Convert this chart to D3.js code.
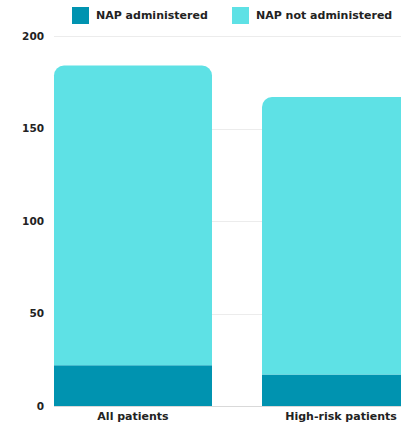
<!DOCTYPE html>
<html>
<head>
<meta charset="utf-8">
<script src="https://cdn.jsdelivr.net/npm/d3@7"></script>
<style>
  html, body { margin: 0; padding: 0; background: #fff; overflow: hidden; }
  text { font-family: "DejaVu Sans", "Liberation Sans", Arial, sans-serif; font-weight: bold; fill: #222; }
</style>
</head>
<body>
<svg id="chart"></svg>
<script>
// Patient groups and NAP counts
const categories = ["All patients", "High-risk patients"];
const seriesNames = ["NAP administered", "NAP not administered"];
const napAdministered = [22, 17];
const napNotAdministered = [162, 150];
const yTicks = [0, 50, 100, 150, 200];
const colors = ["#0093b0", "#5ee1e5"];

const width = 430, height = 429;
const margin = { top: 36, right: 0, bottom: 23, left: 54 };

const svg = d3.select("#chart").attr("width", width).attr("height", height);

// Bars are 158px wide with a 50px gap; the second bar runs past the right edge
const x = d3.scaleBand()
  .domain(categories)
  .range([margin.left, margin.left + 2 * 158 + 50])
  .paddingInner(50 / 208)
  .paddingOuter(0);

const y = d3.scaleLinear().domain([0, 200]).range([height - margin.bottom, margin.top]);

// Gridlines
svg.append("g")
  .selectAll("line")
  .data(yTicks.filter(d => d > 0))
  .join("line")
  .attr("x1", margin.left)
  .attr("x2", width)
  .attr("y1", d => Math.round(y(d)) + 0.5)
  .attr("y2", d => Math.round(y(d)) + 0.5)
  .attr("stroke", "#ececec")
  .attr("stroke-width", 1);

// Y axis labels
const yAxis = d3.axisLeft(y).tickValues(yTicks).tickSize(0).tickPadding(0);
const gy = svg.append("g").attr("transform", `translate(${margin.left - 10},0)`).call(yAxis);
gy.select(".domain").remove();
gy.selectAll("text").style("font-size", "10.5px").style("font-family", null).attr("fill", "#222");

const stackData = categories.map((c, i) => ({ cat: c, a: napAdministered[i], b: napNotAdministered[i] }));
const stack = d3.stack().keys(["a", "b"])(stackData);

function topRounded(x0, y0, w, h, r) {
  const p = d3.path();
  p.moveTo(x0, y0 + h);
  p.lineTo(x0, y0 + r);
  p.arcTo(x0, y0, x0 + r, y0, r);
  p.lineTo(x0 + w - r, y0);
  p.arcTo(x0 + w, y0, x0 + w, y0 + r, r);
  p.lineTo(x0 + w, y0 + h);
  p.closePath();
  return p.toString();
}

stack.forEach((layer, li) => {
  svg.append("g")
    .selectAll("path")
    .data(layer)
    .join("path")
    .attr("fill", colors[li])
    .attr("d", d => {
      const x0 = x(d.data.cat), w = x.bandwidth();
      const yt = y(d[1]), yb = y(d[0]);
      return topRounded(x0, yt, w, yb - yt, li === 1 ? 10 : 0);
    });
});

// Baseline
svg.append("line")
  .attr("x1", margin.left).attr("x2", width)
  .attr("y1", y(0) + 0.5).attr("y2", y(0) + 0.5)
  .attr("stroke", "#d9d9d9");

// X axis labels
const xAxis = d3.axisBottom(x).tickSize(0).tickPadding(0);
const gx = svg.append("g").attr("transform", `translate(0,${y(0) + 6})`).call(xAxis);
gx.select(".domain").remove();
gx.selectAll("text").style("font-size", "11px").style("font-family", null)
  .attr("dy", "0.71em").attr("fill", "#222");

// Legend
const legendItems = [
  { name: seriesNames[0], color: colors[0], x: 72 },
  { name: seriesNames[1], color: colors[1], x: 232 }
];
const lg = svg.append("g").selectAll("g").data(legendItems).join("g")
  .attr("transform", d => `translate(${d.x},7)`);
lg.append("rect").attr("width", 17).attr("height", 17).attr("fill", d => d.color);
lg.append("text").attr("x", 24).attr("y", 8.5).attr("dy", "0.35em")
  .style("font-size", "11px").text(d => d.name);
</script>
</body>
</html>
